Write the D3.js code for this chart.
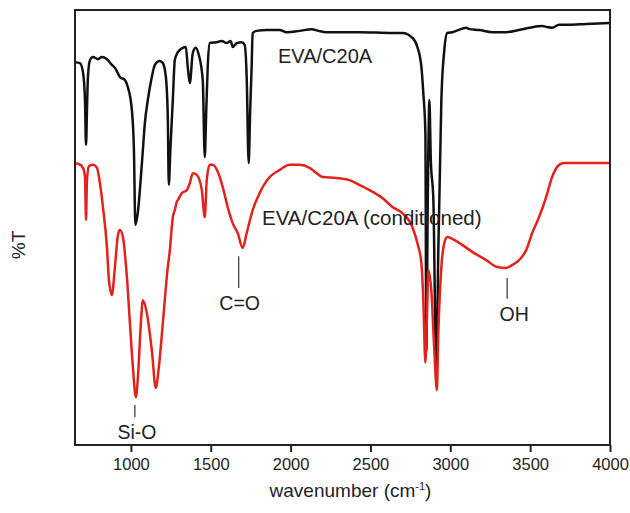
<!DOCTYPE html>
<html>
<head>
<meta charset="utf-8">
<script src="https://cdn.jsdelivr.net/npm/d3@7/dist/d3.min.js"></script>
<style>
  html, body { margin: 0; padding: 0; background: #fff; }
  text { font-family: "Liberation Sans", Arial, sans-serif; }
</style>
</head>
<body>
<svg id="chart" width="630" height="513"></svg>
<script>
// ---- Data ----
const wnBlack = [650,681,700,712.5,719,725,731,744,762.5,794,819,850,881,900,931,962.5,981,1006,1019,1028,1044,1062.5,1075,1087.5,1106,1131,1150,1181,1200,1219,1231,1237.5,1247,1262.5,1275,1294,1325,1344,1356,1369,1387.5,1406,1425,1450,1462.5,1472,1481,1494,1537.5,1569,1600,1625,1637.5,1662.5,1694,1712.5,1725,1737.5,1747,1756,1762.5,1787.5,1850,1931,1975,2056,2131,2175,2225,2431,2637.5,2700,2762.5,2794,2819,2831,2844,2850,2859,2869,2878,2894,2912.5,2925,2944,2962.5,2981,3012.5,3037.5,3100,3119,3181,3262.5,3350,3431,3494,3575,3606,3637.5,3681,3744,3850,4000];
const tBlack  = [88.0,87.8,85.7,79.3,69.0,77.0,84.6,88.5,89.2,88.7,89.2,88.7,87.4,86.7,84.6,83.9,82.3,77.0,67.8,50.6,53.6,61.6,67.8,74.0,79.3,84.6,87.4,88.3,87.8,84.6,75.4,59.8,67.8,79.3,88.5,90.3,91.3,91.5,86.9,83.2,90.1,91.3,89.7,83.9,66.2,77.0,86.9,92.4,92.6,92.9,92.4,92.9,91.5,92.4,92.6,92.0,84.6,64.8,77.0,86.9,94.7,95.2,95.4,95.4,94.9,95.2,95.6,95.2,94.9,94.9,94.7,94.7,93.6,91.5,86.9,80.9,71.7,21.5,56.3,79.3,65.5,56.3,16.0,44.8,79.3,90.8,94.7,94.9,95.2,95.9,95.6,95.4,94.9,94.9,95.4,95.9,96.3,96.1,95.9,96.6,96.6,96.8,97.0];

const wnRed = [650,675,700,712.5,719,725,737.5,762.5,787.5,806,825,850,862.5,881,900,919,931,950,975,994,1012.5,1031,1044,1062.5,1075,1100,1131,1156,1175,1200,1231,1244,1256,1262.5,1275,1287.5,1294,1319,1350,1369,1387.5,1412.5,1444,1462.5,1475,1494,1512.5,1544,1575,1606,1637.5,1669,1700,1725,1762.5,1806,1869,1931,1994,2056,2119,2162.5,2200,2287.5,2369,2431,2494,2575,2637.5,2700,2762.5,2794,2819,2831,2844,2856,2862.5,2881,2900,2916,2925,2944,2962.5,2981,3012.5,3075,3137.5,3225,3294,3350,3387.5,3431,3475,3512.5,3556,3600,3637.5,3681,3712.5,4000];
const tRed  = [64.8,64.6,63.7,61.6,51.7,60.9,64.1,64.4,63.7,60.2,54.7,45.5,37.9,34.5,40.9,48.3,49.4,47.8,38.6,28.0,17.9,11.0,15.6,28.0,33.3,30.3,21.8,13.1,17.9,28.0,40.9,44.8,50.1,52.4,54.0,55.9,56.3,57.9,58.6,60.2,62.5,62.1,58.6,52.4,60.9,64.4,64.4,62.8,59.3,54.7,51.0,48.7,45.3,48.7,54.0,57.9,61.6,63.2,64.4,64.4,63.7,62.5,61.6,61.4,60.9,59.8,58.6,56.8,54.7,53.3,50.1,46.4,41.8,33.3,18.9,33.3,40.2,35.6,21.8,12.6,25.7,40.9,46.4,47.8,47.4,46.0,44.4,42.5,40.9,40.7,41.4,42.5,44.8,48.7,52.4,57.0,61.6,64.4,64.8,64.8];

const xTicks = [1000,1500,2000,2500,3000,3500,4000];
const seriesNames = ["EVA/C20A", "EVA/C20A (conditioned)"];
// annotations: label, wavenumber of tick, top & bottom of tick (%T)
const annLabels = ["Si-O", "C=O", "OH"];
const annWn     = [1025, 1675, 3356];
const annTop    = [9.2, 43.4, 38.4];
const annBottom = [6.4, 36.1, 33.6];

// ---- Layout ----
const svg = d3.select("#chart");
const W = 630, H = 513;
const m = {left: 75, right: 20, top: 10, bottom: 68};
const x = d3.scaleLinear().domain([650, 4000]).range([m.left, W - m.right]);
const y = d3.scaleLinear().domain([0, 100]).range([H - m.bottom, m.top]);

const line = d3.line()
  .x(d => x(d[0])).y(d => y(d[1]))
  .curve(d3.curveMonotoneX);

const blackData = wnBlack.map((w, i) => [w, tBlack[i]]);
const redData = wnRed.map((w, i) => [w, tRed[i]]);

// clip
svg.append("clipPath").attr("id", "clip").append("rect")
  .attr("x", m.left).attr("y", m.top)
  .attr("width", W - m.left - m.right).attr("height", H - m.top - m.bottom);

const g = svg.append("g").attr("clip-path", "url(#clip)");
g.append("path").datum(blackData)
  .attr("d", line).attr("fill", "none")
  .attr("stroke", "#111").attr("stroke-width", 2.5).attr("stroke-linejoin", "round");
g.append("path").datum(redData)
  .attr("d", line).attr("fill", "none")
  .attr("stroke", "#e3221e").attr("stroke-width", 2.5).attr("stroke-linejoin", "round");

// frame
svg.append("rect")
  .attr("x", m.left).attr("y", m.top)
  .attr("width", W - m.left - m.right).attr("height", H - m.top - m.bottom)
  .attr("fill", "none").attr("stroke", "#222").attr("stroke-width", 2);

// x axis
const xAxis = d3.axisBottom(x).tickValues(xTicks).tickSize(7).tickPadding(6).tickFormat(d3.format("d"));
const ax = svg.append("g").attr("transform", `translate(0,${H - m.bottom})`).call(xAxis);
ax.select(".domain").remove();
ax.selectAll(".tick line").attr("stroke", "#222").attr("stroke-width", 2);
ax.selectAll(".tick text").attr("fill", "#222").style("font-size", "16.5px")
  .style("font-family", "'Liberation Sans', Arial, sans-serif");

// axis titles
const xt = svg.append("text")
  .attr("x", (m.left + W - m.right) / 2 + 8).attr("y", 497)
  .attr("text-anchor", "middle").attr("fill", "#222").style("font-size", "19px");
xt.append("tspan").text("wavenumber (cm");
xt.append("tspan").attr("dy", -7).style("font-size", "11px").text("-1");
xt.append("tspan").attr("dy", 7).text(")");

svg.append("text")
  .attr("transform", `translate(25,245) rotate(-90)`)
  .attr("text-anchor", "middle").attr("fill", "#222").style("font-size", "19px")
  .text("%T");

// series labels
svg.append("text").attr("x", 278).attr("y", 63)
  .attr("fill", "#222").style("font-size", "20px").text(seriesNames[0]);
svg.append("text").attr("x", 262).attr("y", 225)
  .attr("fill", "#222").style("font-size", "20.5px").text(seriesNames[1]);

// annotations
annLabels.forEach((lab, i) => {
  svg.append("line")
    .attr("x1", x(annWn[i])).attr("x2", x(annWn[i]))
    .attr("y1", y(annTop[i])).attr("y2", y(annBottom[i]))
    .attr("stroke", "#333").attr("stroke-width", 1.2);
  const dx = lab === "OH" ? 7 : (lab === "Si-O" ? 2 : 1);
  svg.append("text")
    .attr("x", x(annWn[i]) + dx).attr("y", y(annBottom[i]) + 22)
    .attr("text-anchor", "middle").attr("fill", "#222").style("font-size", "19.5px")
    .text(lab);
});
</script>
</body>
</html>
